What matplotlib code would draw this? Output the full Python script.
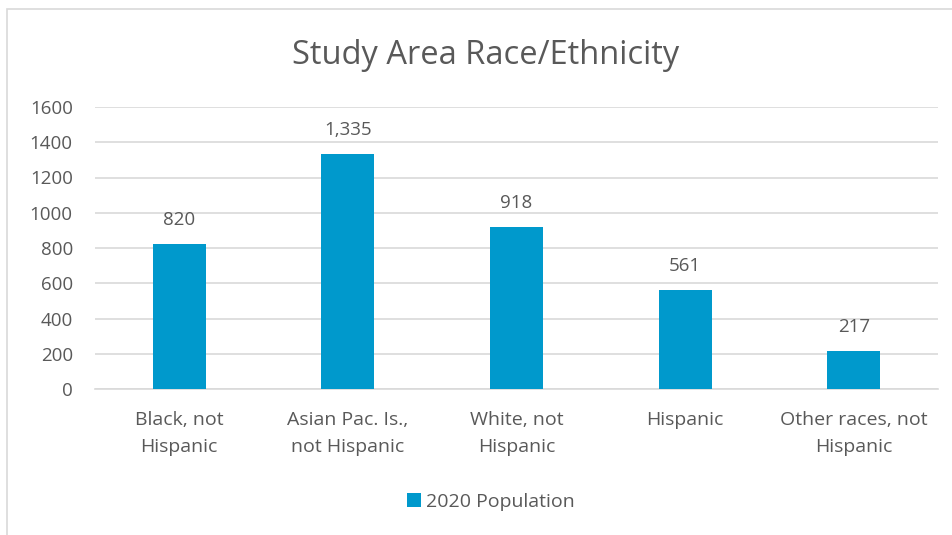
import matplotlib.pyplot as plt
from matplotlib.patches import Rectangle

categories = ['Black, not\nHispanic', 'Asian Pac. Is.,\nnot Hispanic', 'White, not\nHispanic',
              'Hispanic', 'Other races, not\nHispanic']
population = [820, 1335, 918, 561, 217]
yticks = [0, 200, 400, 600, 800, 1000, 1200, 1400, 1600]

bar_color = '#0099CC'
text_color = '#595959'
grid_color = '#D9D9D9'

plt.rcParams['font.family'] = ['Open Sans', 'DejaVu Sans']

fig = plt.figure(figsize=(9.52, 5.35), dpi=100)
# chart border (only left and top edges are visible in the reference)
fig.patches.append(Rectangle((7 / 952, -0.1), 1.2, 1 - 9 / 535 + 0.1, transform=fig.transFigure,
                             fill=False, edgecolor='#D9D9D9', linewidth=1.2))

ax = fig.add_axes([95 / 952, 1 - 389 / 535, 843 / 952, 282 / 535])
x = range(len(categories))
bars = ax.bar(x, population, width=0.315, color=bar_color, label='2020 Population', zorder=3)

for xi, v in zip(x, population):
    ax.text(xi, v + 85, f'{v:,}', ha='center', va='bottom', fontsize=13.5, color=text_color)

ax.set_xlim(-0.5, len(categories) - 0.5)
ax.set_ylim(0, 1600)
ax.set_yticks(yticks)
ax.set_yticklabels([str(t) for t in yticks], fontsize=13.5, color=text_color)
ax.set_xticks(list(x))
ax.set_xticklabels(categories, fontsize=14, color=text_color, linespacing=1.6)
ax.tick_params(axis='both', length=0)
ax.tick_params(axis='x', pad=16)
ax.tick_params(axis='y', pad=16)
ax.yaxis.grid(True, color=grid_color, linewidth=1.2, zorder=0)
for side in ['top', 'right', 'left']:
    ax.spines[side].set_visible(False)
ax.spines['bottom'].set_color(grid_color)
ax.spines['bottom'].set_linewidth(1.2)

fig.text(486 / 952, 1 - 55 / 535, 'Study Area Race/Ethnicity', ha='center', va='center',
         fontsize=23.5, color=text_color)

fig.legend(loc='center', bbox_to_anchor=(491 / 952, 1 - 502 / 535), frameon=False,
           fontsize=14, labelcolor=text_color, handlelength=0.7, handleheight=0.7,
           handletextpad=0.3)

fig.savefig('out.png', dpi=100)
